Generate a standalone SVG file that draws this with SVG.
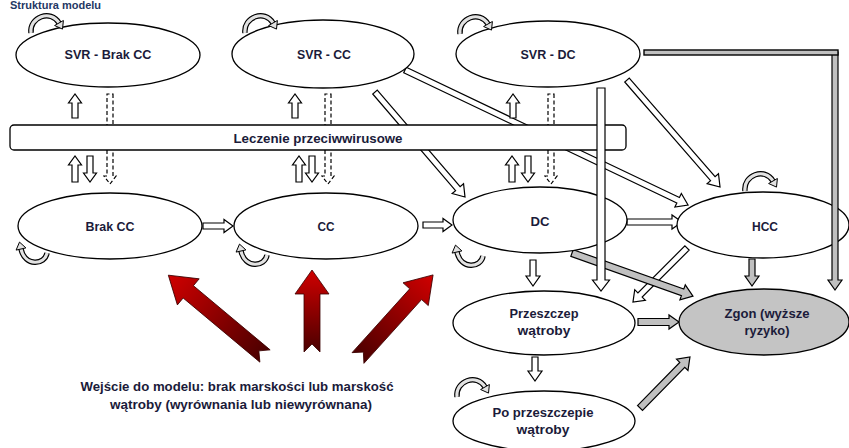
<svg xmlns="http://www.w3.org/2000/svg" width="849" height="448" viewBox="0 0 849 448">
<defs>
<style>
.el{fill:#fff;stroke:#000;stroke-width:1.3}
.zg{fill:#c4c4c4;stroke:#000;stroke-width:1.3}
.t{font-family:"Liberation Sans",Arial,sans-serif;font-weight:bold;font-size:12.5px;fill:#1b1b3a;text-anchor:middle}
.wa{fill:#fff;stroke:#000;stroke-width:1.2;stroke-linejoin:miter}
.ga{fill:#c0c0c0;stroke:#000;stroke-width:1.2}
.da{fill:#fff;stroke:#000;stroke-width:1.2;stroke-dasharray:4 2.5}
.ra{fill:url(#red);stroke:#3a0000;stroke-width:0.8}
.lo{fill:none;stroke:#000;stroke-width:5.5}
.li{fill:none;stroke:#e2e2e2;stroke-width:3.2}
.lh{fill:#e2e2e2;stroke:#000;stroke-width:1}
</style>
<linearGradient id="red" x1="0" y1="0" x2="1" y2="0">
<stop offset="0" stop-color="#4a0000"/>
<stop offset="1" stop-color="#d00000"/>
</linearGradient>
<g id="loopTop">
<path class="lo" d="M0,0 C-2,-16 20,-24 28,-10"/>
<path class="li" d="M0,0 C-2,-16 20,-24 28,-10"/>
<polygon class="lh" points="32.4,-12.5 23.6,-7.5 31.5,-3.9"/>
</g>
<g id="loopBot">
<path class="lo" d="M0,0 C-2,12 -22,14 -26,-4"/>
<path class="li" d="M0,0 C-2,12 -22,14 -26,-4"/>
<polygon class="lh" points="-21.1,-5.1 -30.9,-2.9 -27.5,-10.9"/>
</g>
</defs>
<rect width="849" height="448" fill="#fff"/>
<text x="10" y="9" style="font-family:'Liberation Sans',Arial,sans-serif;font-weight:bold;font-size:11px;fill:#1f3864">Struktura modelu</text>

<g id="connectors">
<path class="wa" transform="translate(375,92) rotate(49.4)" d="M0,-3 L127.3,-3 L127.3,-7.5 L138.3,0 L127.3,7.5 L127.3,3 L0,3Z"/>
<path class="wa" transform="translate(405,70) rotate(25.5)" d="M0,-3 L302.6,-3 L302.6,-7.5 L313.6,0 L302.6,7.5 L302.6,3 L0,3Z"/>
<path class="wa" transform="translate(627,80) rotate(49)" d="M0,-3 L130.8,-3 L130.8,-7.5 L141.8,0 L130.8,7.5 L130.8,3 L0,3Z"/>
<path class="da" transform="translate(110,94) rotate(90)" d="M0,-3 L82,-3 L82,-6 L90,0 L82,6 L82,3 L0,3Z"/>
<path class="da" transform="translate(328,94) rotate(90)" d="M0,-3 L82,-3 L82,-6 L90,0 L82,6 L82,3 L0,3Z"/>
<path class="da" transform="translate(551,94) rotate(90)" d="M0,-3 L82,-3 L82,-6 L90,0 L82,6 L82,3 L0,3Z"/>
<path class="wa" transform="translate(75,118) rotate(-90)" d="M0,-3 L15,-3 L15,-6.5 L24,0 L15,6.5 L15,3 L0,3Z"/>
<path class="wa" transform="translate(295,118) rotate(-90)" d="M0,-3 L15,-3 L15,-6.5 L24,0 L15,6.5 L15,3 L0,3Z"/>
<path class="wa" transform="translate(513,118) rotate(-90)" d="M0,-3 L15,-3 L15,-6.5 L24,0 L15,6.5 L15,3 L0,3Z"/>
<path class="wa" transform="translate(75,182) rotate(-90)" d="M0,-3 L17,-3 L17,-6.5 L26,0 L17,6.5 L17,3 L0,3Z"/>
<path class="wa" transform="translate(90,156) rotate(90)" d="M0,-3 L17,-3 L17,-6.5 L26,0 L17,6.5 L17,3 L0,3Z"/>
<path class="wa" transform="translate(299,182) rotate(-90)" d="M0,-3 L17,-3 L17,-6.5 L26,0 L17,6.5 L17,3 L0,3Z"/>
<path class="wa" transform="translate(312,156) rotate(90)" d="M0,-3 L17,-3 L17,-6.5 L26,0 L17,6.5 L17,3 L0,3Z"/>
<path class="wa" transform="translate(512,182) rotate(-90)" d="M0,-3 L17,-3 L17,-6.5 L26,0 L17,6.5 L17,3 L0,3Z"/>
<path class="wa" transform="translate(528,156) rotate(90)" d="M0,-3 L17,-3 L17,-6.5 L26,0 L17,6.5 L17,3 L0,3Z"/>
<path class="wa" transform="translate(203,226)" d="M0,-3 L21,-3 L21,-6.5 L30,0 L21,6.5 L21,3 L0,3Z"/>
<path class="wa" transform="translate(423,225)" d="M0,-3 L20,-3 L20,-6.5 L29,0 L20,6.5 L20,3 L0,3Z"/>
<path class="wa" transform="translate(627,222)" d="M0,-3 L45,-3 L45,-7 L55,0 L45,7 L45,3 L0,3Z"/>
<path class="wa" transform="translate(533,260) rotate(90)" d="M0,-3 L16,-3 L16,-7 L26,0 L16,7 L16,3 L0,3Z"/>
<path class="wa" transform="translate(535,357) rotate(90)" d="M0,-3 L14,-3 L14,-7 L24,0 L14,7 L14,3 L0,3Z"/>
<path class="wa" transform="translate(687,248) rotate(135)" d="M0,-3 L66.4,-3 L66.4,-7.5 L76.4,0 L66.4,7.5 L66.4,3 L0,3Z"/>
<path class="ga" transform="translate(572,253) rotate(19.6)" d="M0,-3.5 L117.4,-3.5 L117.4,-8 L128.4,0 L117.4,8 L117.4,3.5 L0,3.5Z"/>
<path class="ga" transform="translate(752,259) rotate(90)" d="M0,-3 L17,-3 L17,-7 L27,0 L17,7 L17,3 L0,3Z"/>
<path class="ga" transform="translate(638,322)" d="M0,-3.5 L31,-3.5 L31,-7 L41,0 L31,7 L31,3.5 L0,3.5Z"/>
<path class="ga" transform="translate(640,408) rotate(-45.6)" d="M0,-3.5 L60.4,-3.5 L60.4,-8 L71.4,0 L60.4,8 L60.4,3.5 L0,3.5Z"/>
<path class="ra" transform="translate(265,356) rotate(-140.1)" d="M0,-8 L100,-8 L100,-17 L126,0 L100,17 L100,8 L0,8 L8,0Z"/>
<path class="ra" transform="translate(312,352) rotate(-90)" d="M0,-8 L58,-8 L58,-17 L82,0 L58,17 L58,8 L0,8 L8,0Z"/>
<path class="ra" transform="translate(358,358) rotate(-47.9)" d="M0,-8 L86,-8 L86,-17 L112,0 L86,17 L86,8 L0,8 L8,0Z"/>
</g>

<g id="node-leczenie">
<rect x="10" y="125" width="616" height="25" rx="4" class="el"/>
<text class="t" x="318" y="143" textLength="169" lengthAdjust="spacingAndGlyphs">Leczenie przeciwwirusowe</text>
</g>

<g id="node-svr-brak-cc">
<ellipse cx="108" cy="55" rx="92" ry="32" class="el"/>
<use href="#loopTop" x="31" y="33"/>
<text class="t" x="108" y="59" textLength="87" lengthAdjust="spacingAndGlyphs">SVR - Brak CC</text>
</g>
<g id="node-svr-cc">
<ellipse cx="323" cy="54" rx="91" ry="34" class="el"/>
<use href="#loopTop" x="245" y="33"/>
<text class="t" x="324" y="59" textLength="54" lengthAdjust="spacingAndGlyphs">SVR - CC</text>
</g>
<g id="node-svr-dc">
<ellipse cx="548" cy="54" rx="92" ry="33" class="el"/>
<use href="#loopTop" x="460" y="34"/>
<text class="t" x="548" y="59" textLength="55" lengthAdjust="spacingAndGlyphs">SVR - DC</text>
</g>
<g id="node-brak-cc">
<ellipse cx="110" cy="226" rx="92" ry="33" class="el"/>
<use href="#loopBot" x="47" y="253"/>
<text class="t" x="110" y="231" textLength="49" lengthAdjust="spacingAndGlyphs">Brak CC</text>
</g>
<g id="node-cc">
<ellipse cx="326" cy="226" rx="92" ry="33" class="el"/>
<use href="#loopBot" x="267" y="255"/>
<text class="t" x="326" y="231" textLength="17" lengthAdjust="spacingAndGlyphs">CC</text>
</g>
<g id="node-dc">
<ellipse cx="540" cy="220" rx="87" ry="33" class="el"/>
<use href="#loopBot" x="483" y="256"/>
<text class="t" x="540" y="226" textLength="19" lengthAdjust="spacingAndGlyphs">DC</text>
</g>
<g id="node-hcc">
<ellipse cx="763" cy="225" rx="86" ry="33" class="el"/>
<use href="#loopTop" x="745" y="191"/>
<text class="t" x="765" y="231" textLength="26" lengthAdjust="spacingAndGlyphs">HCC</text>
</g>
<g id="node-przeszczep">
<ellipse cx="544" cy="323" rx="91" ry="32" class="el"/>
<text class="t" x="544" y="318" textLength="69" lengthAdjust="spacingAndGlyphs">Przeszczep</text>
<text class="t" x="544" y="335" textLength="53" lengthAdjust="spacingAndGlyphs">wątroby</text>
</g>
<g id="node-zgon">
<ellipse cx="764" cy="322" rx="85" ry="33" class="zg"/>
<text class="t" x="767" y="318" textLength="85" lengthAdjust="spacingAndGlyphs">Zgon (wyższe</text>
<text class="t" x="767" y="335" textLength="45" lengthAdjust="spacingAndGlyphs">ryzyko)</text>
</g>
<g id="node-po-przeszczepie">
<ellipse cx="544" cy="421" rx="91" ry="30" class="el"/>
<use href="#loopTop" x="457" y="397"/>
<text class="t" x="543" y="417" textLength="101" lengthAdjust="spacingAndGlyphs">Po przeszczepie</text>
<text class="t" x="543" y="434" textLength="53" lengthAdjust="spacingAndGlyphs">wątroby</text>
</g>

<g id="connectors-front">
<path class="wa" transform="translate(601,88) rotate(90)" d="M0,-4 L192,-4 L192,-8.5 L203,0 L192,8.5 L192,4 L0,4Z"/>
<path class="ga" transform="translate(835,52) rotate(90)" d="M0,-3 L228,-3 L228,-7 L238,0 L228,7 L228,3 L0,3Z"/>
<rect x="644" y="50" width="194" height="5" fill="#c0c0c0" stroke="#000" stroke-width="1.4"/>
</g>

<g id="entry-label">
<text class="t" x="237" y="391" textLength="313" lengthAdjust="spacingAndGlyphs">Wejście do modelu: brak marskości lub marskość</text>
<text class="t" x="241" y="409" textLength="262" lengthAdjust="spacingAndGlyphs">wątroby (wyrównania lub niewyrównana)</text>
</g>
</svg>
